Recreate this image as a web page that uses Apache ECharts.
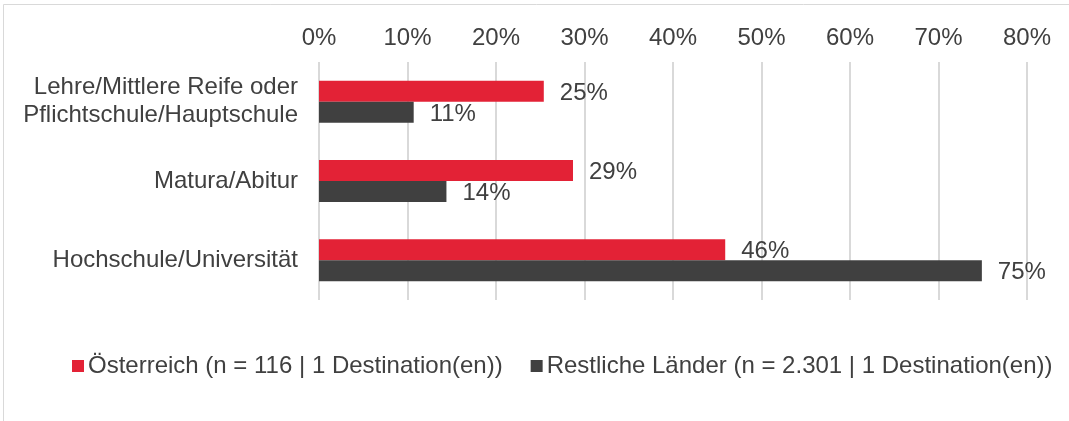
<!DOCTYPE html>
<html>
<head>
<meta charset="utf-8">
<script src="https://cdn.jsdelivr.net/npm/echarts@6/dist/echarts.min.js"></script>
<style>
  html, body { margin: 0; padding: 0; background: #fff; }
  #chart { width: 1069px; height: 421px; }
</style>
</head>
<body>
<div id="chart"></div>
<script>
// categories and values (percent)
const categories = [
  "Lehre/Mittlere Reife oder\nPflichtschule/Hauptschule",
  "Matura/Abitur",
  "Hochschule/Universität"
];
const seriesNames = [
  "Österreich (n = 116 | 1 Destination(en))",
  "Restliche Länder (n = 2.301 | 1 Destination(en))"
];
const austriaValues = [25.4, 28.7, 45.9];
const otherValues = [10.7, 14.4, 74.9];

const font = "'Liberation Sans', Arial, sans-serif";
const textColor = "#404040";

const myChart = echarts.init(document.getElementById("chart"));
const option = {
  animation: false,
  textStyle: { fontFamily: font },
  graphic: [
    {
      type: "rect",
      shape: { x: 3.5, y: 4.5, width: 1200, height: 600 },
      style: { fill: "none", stroke: "#d9d9d9", lineWidth: 1 },
      silent: true
    }
  ],
  grid: {
    left: 319,
    right: 42,
    top: 62,
    bottom: 121
  },
  legend: {
    left: 67,
    top: 349,
    itemWidth: 12,
    itemHeight: 12,
    itemGap: 28,
    icon: "rect",
    textStyle: { fontSize: 24, color: textColor, fontFamily: font, padding: [0, 0, 0, -1] },
    data: seriesNames
  },
  xAxis: {
    type: "value",
    position: "top",
    min: 0,
    max: 80,
    interval: 10,
    axisLine: { show: false },
    axisTick: { show: false },
    axisLabel: {
      formatter: "{value}%",
      fontSize: 24,
      color: textColor,
      fontFamily: font,
      margin: 12
    },
    splitLine: { lineStyle: { color: "#d9d9d9", width: 2 } }
  },
  yAxis: {
    type: "category",
    inverse: true,
    data: categories,
    axisLine: { show: false },
    axisTick: { show: false },
    axisLabel: {
      fontSize: 24,
      color: textColor,
      fontFamily: font,
      lineHeight: 28,
      margin: 21,
      align: "right"
    }
  },
  series: [
    {
      name: seriesNames[0],
      type: "bar",
      data: austriaValues,
      barWidth: 21,
      barGap: "0%",
      itemStyle: { color: "#e32236" },
      label: {
        show: true,
        position: "right",
        distance: 16,
        offset: [0, 2],
        fontSize: 24,
        color: textColor,
        fontFamily: font,
        formatter: (p) => Math.round(p.value) + "%"
      }
    },
    {
      name: seriesNames[1],
      type: "bar",
      data: otherValues,
      barWidth: 21,
      barGap: "0%",
      itemStyle: { color: "#404040" },
      label: {
        show: true,
        position: "right",
        distance: 16,
        offset: [0, 2],
        fontSize: 24,
        color: textColor,
        fontFamily: font,
        formatter: (p) => Math.round(p.value) + "%"
      }
    }
  ]
};
myChart.setOption(option);
window.addEventListener("resize", () => {
  myChart.resize();
});
</script>
</body>
</html>
